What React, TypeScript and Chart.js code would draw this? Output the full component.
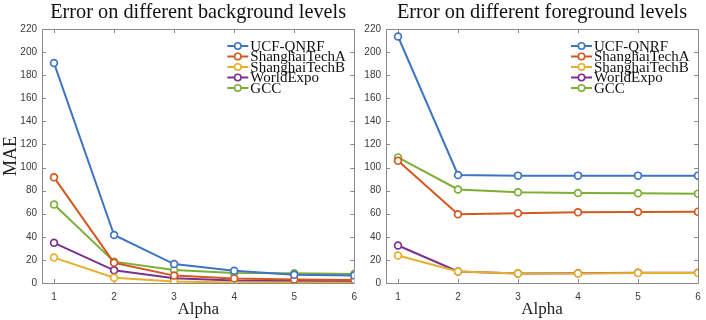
import React, { useEffect, useRef } from 'react';
import { Chart, registerables } from 'chart.js';

Chart.register(...registerables);

const alphas = [1, 2, 3, 4, 5, 6];
const yTicks = [0, 20, 40, 60, 80, 100, 120, 140, 160, 180, 200, 220];
const seriesNames = ['UCF-QNRF', 'ShanghaiTechA', 'ShanghaiTechB', 'WorldExpo', 'GCC'];
const seriesColors = ['#3F73C4', '#D3581F', '#E6B02C', '#7A318F', '#7DAE36'];

// Background levels
const bgUCF = [190.5, 41.6, 16.4, 10.6, 7.2, 6.6];
const bgSHA = [91.5, 17.5, 6.4, 4, 3, 2.5];
const bgSHB = [22, 4.6, 1.2, 0.4, 0.4, 0.3];
const bgWE = [34.8, 11, 4.2, 2.2, 1.8, 1.6];
const bgGCC = [68, 18.5, 11.3, 8.6, 8.4, 7.8];

// Foreground levels
const fgUCF = [213.5, 93.6, 93, 93, 93, 93];
const fgSHA = [105.8, 59.6, 60.5, 61.2, 61.6, 61.8];
const fgSHB = [23.8, 10, 8.2, 8.3, 8.6, 8.6];
const fgWE = [32.5, 10, 8.3, 8.5, 8.8, 8.8];
const fgGCC = [108.8, 81, 78.6, 78, 77.8, 77.4];

const SERIF = '"Liberation Serif", "Times New Roman", serif';
const SANS = '"Liberation Sans", Arial, sans-serif';

type PanelProps = {
  title: string;
  series: number[][];
  showYTitle: boolean;
  left: number;
  width: number;
  yAxisWidth: number;
  rightPad: number;
};

const boxPlugin = {
  id: 'matlabBox',
  beforeDatasetsDraw(chart: any) {
    const { ctx, chartArea } = chart;
    const xs = chart.scales.x;
    const ys = chart.scales.y;
    const { left, right, top, bottom } = chartArea;
    const tl = 4;
    ctx.save();
    ctx.strokeStyle = '#8a8a8a';
    ctx.lineWidth = 1;
    ctx.beginPath();
    ctx.rect(Math.round(left) + 0.5, Math.round(top) + 0.5, Math.round(right - left), Math.round(bottom - top));
    for (const a of alphas) {
      const px = Math.round(xs.getPixelForValue(a)) + 0.5;
      ctx.moveTo(px, bottom);
      ctx.lineTo(px, bottom - tl);
      ctx.moveTo(px, top);
      ctx.lineTo(px, top + tl);
    }
    for (const v of yTicks) {
      const py = Math.round(ys.getPixelForValue(v)) + 0.5;
      ctx.moveTo(left, py);
      ctx.lineTo(left + tl, py);
      ctx.moveTo(right, py);
      ctx.lineTo(right - tl, py);
    }
    ctx.stroke();
    ctx.restore();
  },
};

const titleLegendPlugin = {
  id: 'titleLegend',
  afterDraw(chart: any) {
    const { ctx, chartArea } = chart;
    const opts = chart.options.plugins.titleLegend || {};
    ctx.save();
    // title
    ctx.fillStyle = '#111';
    ctx.font = `20.3px ${SERIF}`;
    ctx.textAlign = 'center';
    ctx.textBaseline = 'middle';
    ctx.fillText(opts.text || '', (chartArea.left + chartArea.right) / 2, 13);
    // legend
    const x0 = chartArea.right - 127;
    const rowStart = 46;
    const rowStep = 10.5;
    ctx.font = `15px ${SERIF}`;
    ctx.textAlign = 'left';
    chart.data.datasets.forEach((ds: any, i: number) => {
      const y = rowStart + i * rowStep;
      ctx.strokeStyle = ds.borderColor;
      ctx.lineWidth = 2;
      ctx.beginPath();
      ctx.moveTo(x0, y);
      ctx.lineTo(x0 + 21, y);
      ctx.stroke();
      ctx.beginPath();
      ctx.arc(x0 + 10.5, y, 3.2, 0, Math.PI * 2);
      ctx.fillStyle = '#fff';
      ctx.fill();
      ctx.lineWidth = 1.6;
      ctx.stroke();
      ctx.fillStyle = '#111';
      ctx.fillText(ds.label, x0 + 23, y + 1);
    });
    ctx.restore();
  },
};

function Panel({ title, series, showYTitle, left, width, yAxisWidth, rightPad }: PanelProps) {
  const ref = useRef<HTMLCanvasElement | null>(null);
  useEffect(() => {
    if (!ref.current) return;
    const chart = new Chart(ref.current, {
      type: 'line',
      data: {
        datasets: series.map((vals, i) => ({
          label: seriesNames[i],
          data: alphas.map((a, j) => ({ x: a, y: vals[j] })),
          borderColor: seriesColors[i],
          backgroundColor: '#ffffff',
          pointBackgroundColor: '#ffffff',
          pointBorderColor: seriesColors[i],
          borderWidth: 2,
          pointRadius: 3.4,
          pointBorderWidth: 1.7,
          tension: 0,
          fill: false,
        })),
      },
      options: {
        animation: false,
        responsive: false,
        events: [],
        layout: { padding: { top: 29, right: rightPad, left: 0, bottom: 0 } },
        plugins: {
          legend: { display: false },
          tooltip: { enabled: false },
          title: { display: false },
          titleLegend: { text: title },
        } as any,
        scales: {
          x: {
            type: 'linear',
            min: 0.8,
            max: 6,
            afterBuildTicks: (s: any) => {
              s.ticks = alphas.map((v) => ({ value: v }));
            },
            afterFit: (s: any) => {
              s.height = 37;
              s.paddingLeft = 0;
              s.paddingRight = 0;
            },
            grid: { display: false, drawTicks: false },
            border: { display: false },
            ticks: {
              padding: 8,
              color: '#3a3a3a',
              font: { family: SANS, size: 10 },
              maxRotation: 0,
            },
            title: {
              display: true,
              text: 'Alpha',
              color: '#222',
              font: { family: SERIF, size: 17 },
              padding: { top: 0, bottom: 0 },
            },
          },
          y: {
            type: 'linear',
            min: 0,
            max: 220,
            afterBuildTicks: (s: any) => {
              s.ticks = yTicks.map((v) => ({ value: v }));
            },
            afterFit: (s: any) => {
              s.width = yAxisWidth;
              s.paddingTop = 0;
              s.paddingBottom = 0;
            },
            grid: { display: false, drawTicks: false },
            border: { display: false },
            ticks: {
              padding: 5,
              color: '#3a3a3a',
              font: { family: SANS, size: 10 },
            },
            title: {
              display: showYTitle,
              text: 'MAE',
              color: '#222',
              font: { family: SERIF, size: 18 },
              padding: { top: 0, bottom: 0 },
            },
          },
        },
      } as any,
      plugins: [boxPlugin, titleLegendPlugin],
    });
    return () => chart.destroy();
  }, []);
  return (
    <canvas
      ref={ref}
      width={width}
      height={320}
      style={{ position: 'absolute', left, top: 0, width, height: 320 }}
    />
  );
}

export default function App() {
  return (
    <div style={{ position: 'fixed', left: 0, top: 0, width: 706, height: 320, background: '#fff', overflow: 'hidden' }}>
      <Panel
        title="Error on different background levels"
        series={[bgUCF, bgSHA, bgSHB, bgWE, bgGCC]}
        showYTitle={true}
        left={0}
        width={360}
        yAxisWidth={42}
        rightPad={5}
      />
      <Panel
        title="Error on different foreground levels"
        series={[fgUCF, fgSHA, fgSHB, fgWE, fgGCC]}
        showYTitle={false}
        left={353}
        width={353}
        yAxisWidth={33}
        rightPad={8}
      />
    </div>
  );
}
